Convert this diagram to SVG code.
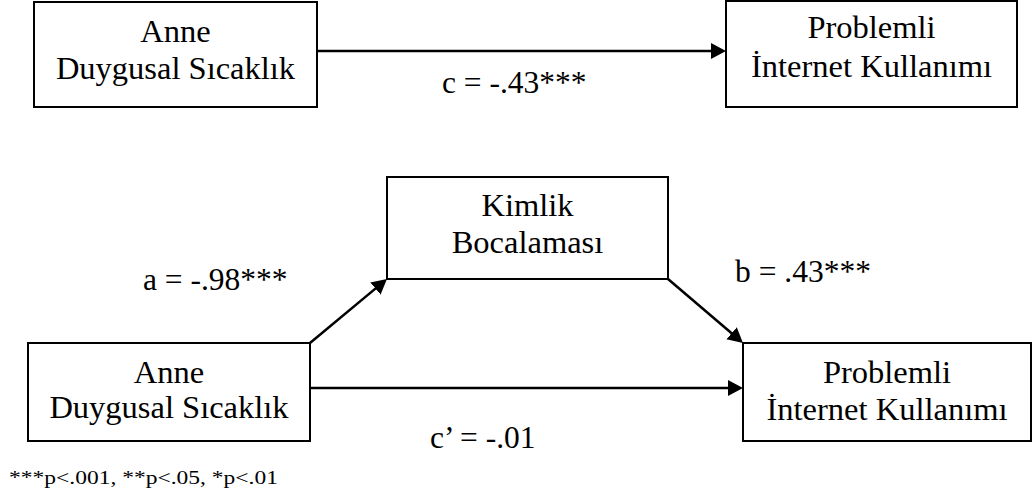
<svg xmlns="http://www.w3.org/2000/svg" width="1033" height="497" viewBox="0 0 1033 497">
<style>
.box{fill:#fff;stroke:#000;stroke-width:2}
.t{font-family:"Liberation Serif","Times New Roman",serif;font-size:32.5px;fill:#000;text-anchor:middle}
.lbl{font-family:"Liberation Serif","Times New Roman",serif;font-size:31.5px;fill:#000}
.note{font-family:"Liberation Serif","Times New Roman",serif;font-size:18px;fill:#000}
.edge{stroke:#000;stroke-width:2.5;fill:none}
</style>
<defs>
<marker id="arr" markerUnits="userSpaceOnUse" markerWidth="16" markerHeight="17" refX="7" refY="8" orient="auto">
<path d="M0,0 L15,8 L0,16 z" fill="#000"/>
</marker>
</defs>
<rect width="1033" height="497" fill="#fff"/>
<g id="connectors">
<line class="edge" x1="317" y1="51" x2="718" y2="51" marker-end="url(#arr)"/>
<line class="edge" x1="310" y1="343" x2="380.8" y2="284.1" marker-end="url(#arr)"/>
<line class="edge" x1="668" y1="279" x2="736.9" y2="337.8" marker-end="url(#arr)"/>
<line class="edge" x1="310" y1="388" x2="735" y2="388" marker-end="url(#arr)"/>
</g>
<g id="node-anne-top">
<rect class="box" x="34" y="2" width="283" height="105"/>
<text class="t" x="175.5" y="42">Anne</text>
<text class="t" x="175.5" y="79">Duygusal Sıcaklık</text>
</g>
<g id="node-pik-top">
<rect class="box" x="726" y="1" width="291" height="106"/>
<text class="t" x="871.5" y="38">Problemli</text>
<text class="t" x="871.5" y="77">İnternet Kullanımı</text>
</g>
<g id="node-kimlik">
<rect class="box" x="387" y="177" width="281" height="102"/>
<text class="t" x="527.5" y="216">Kimlik</text>
<text class="t" x="527.5" y="253">Bocalaması</text>
</g>
<g id="node-anne-bottom">
<rect class="box" x="28" y="343" width="282" height="98"/>
<text class="t" x="169" y="383">Anne</text>
<text class="t" x="169" y="418">Duygusal Sıcaklık</text>
</g>
<g id="node-pik-bottom">
<rect class="box" x="743" y="343" width="288" height="98"/>
<text class="t" x="887" y="383">Problemli</text>
<text class="t" x="887" y="420">İnternet Kullanımı</text>
</g>
<g id="labels">
<text class="lbl" x="442" y="93">c = -.43***</text>
<text class="lbl" x="143" y="290">a = -.98***</text>
<text class="lbl" x="735" y="282">b = .43***</text>
<text class="lbl" x="430" y="448">c’ = -.01</text>
<text class="note" x="9" y="484" textLength="269" lengthAdjust="spacingAndGlyphs">***p&lt;.001, **p&lt;.05, *p&lt;.01</text>
</g>
</svg>
